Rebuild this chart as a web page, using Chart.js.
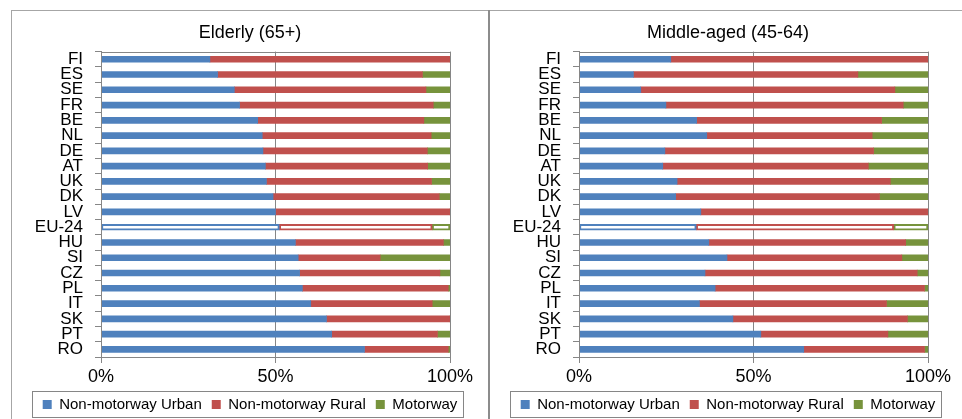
<!DOCTYPE html>
<html>
<head>
<meta charset="utf-8">
<script src="https://cdn.jsdelivr.net/npm/chart.js@4/dist/chart.umd.min.js"></script>
<style>
  html, body { margin: 0; padding: 0; background: #fff; }
  body { width: 962px; height: 419px; overflow: hidden; position: relative; }
  canvas { position: absolute; top: 10px; }
  #elderly { left: 11px; }
  #middle { left: 489px; }
  .line { position: absolute; background: #a6a6a6; }
</style>
</head>
<body>
<canvas id="elderly" width="478" height="412"></canvas>
<canvas id="middle" width="478" height="412"></canvas>
<div class="line" style="left:11px;top:10px;width:951px;height:1px;"></div>
<div class="line" style="left:11px;top:10px;width:1px;height:409px;"></div>
<div class="line" style="left:488px;top:10px;width:2px;height:409px;background:#8c8c8c;"></div>
<script>
const countries = ["FI", "ES", "SE", "FR", "BE", "NL", "DE", "AT", "UK", "DK", "LV", "EU-24", "HU", "SI", "CZ", "PL", "IT", "SK", "PT", "RO"];
const seriesNames = ["Non-motorway Urban", "Non-motorway Rural", "Motorway"];
const xTicks = [0, 50, 100];

// Elderly (65+), share of fatalities in %
const elderlyUrban = [31.2, 33.4, 38.2, 39.7, 44.9, 46.2, 46.4, 47.1, 47.4, 49.3, 50.0, 51.1, 55.7, 56.5, 56.9, 57.7, 60.1, 64.6, 66.1, 75.5];
const elderlyRural = [68.8, 58.7, 54.9, 55.5, 47.6, 48.4, 47.1, 46.5, 47.3, 47.6, 50.0, 43.8, 42.4, 23.5, 40.2, 41.8, 34.8, 35.4, 30.3, 24.0];
const elderlyMotorway = [0, 7.9, 6.9, 4.8, 7.5, 5.4, 6.5, 6.4, 5.3, 3.1, 0, 5.1, 1.9, 20.0, 2.9, 0.5, 5.1, 0, 3.6, 0.5];

// Middle-aged (45-64)
const middleUrban = [26.3, 15.6, 17.7, 24.9, 33.7, 36.6, 24.6, 24.0, 28.1, 27.7, 34.9, 33.6, 37.2, 42.4, 36.1, 39.0, 34.5, 44.1, 52.1, 64.4];
const middleRural = [73.7, 64.3, 72.8, 68.0, 53.0, 47.4, 59.8, 58.9, 61.1, 58.4, 65.1, 56.6, 56.4, 50.1, 60.8, 60.0, 53.6, 50.0, 36.4, 34.6];
const middleMotorway = [0, 20.1, 9.5, 7.1, 13.3, 16.0, 15.6, 17.1, 10.8, 13.9, 0, 9.8, 6.4, 7.5, 3.1, 1.0, 11.9, 5.9, 11.5, 1.0];

const colors = ["#4F81BD", "#C0504D", "#77933C"];
const axisGray = "#868686";
const euIdx = countries.indexOf("EU-24");

Chart.defaults.font.family = "'Liberation Sans', Arial, sans-serif";
Chart.defaults.color = "#000";

// box round the plot area
const plotFrame = {
  id: "plotFrame",
  afterDraw(chart) {
    const a = chart.chartArea;
    const ctx = chart.ctx;
    ctx.save();
    ctx.strokeStyle = axisGray;
    ctx.lineWidth = 1;
    ctx.strokeRect(Math.round(a.left) + 0.5, Math.round(a.top) + 0.5, Math.round(a.right - a.left), Math.round(a.bottom - a.top));
    ctx.restore();
  },
};

// border round the legend like in excel
const legendBox = {
  id: "legendBox",
  afterDraw(chart) {
    const hb = chart.legend.legendHitBoxes;
    if (!hb || !hb.length) return;
    const first = hb[0];
    const last = hb[hb.length - 1];
    const cy = first.top + first.height / 2;
    const ctx = chart.ctx;
    ctx.save();
    ctx.strokeStyle = axisGray;
    ctx.lineWidth = 1;
    ctx.strokeRect(Math.round(first.left - 11) + 0.5, Math.round(cy - 14) + 0.5, Math.round(last.left + last.width - first.left + 16), 26);
    ctx.restore();
  },
};

function makeChart(id, title, urban, rural, motorway) {
  const series = [urban, rural, motorway];
  new Chart(document.getElementById(id), {
    type: "bar",
    data: {
      labels: countries,
      datasets: series.map(function (values, i) {
        return {
          label: seriesNames[i],
          data: values,
          yAxisID: "y",
          backgroundColor: (c) => (c.dataIndex === euIdx ? "#fff" : colors[i]),
          borderColor: colors[i],
          borderWidth: (c) => (c.dataIndex === euIdx ? 2 : 0),
          borderSkipped: false,
          barThickness: 6,
        };
      }),
    },
    options: {
      indexAxis: "y",
      responsive: false,
      animation: false,
      layout: { padding: 0 },
      scales: {
        x: {
          stacked: true,
          min: 0,
          max: 100,
          afterBuildTicks: (s) => { s.ticks = xTicks.map((v) => ({ value: v })); },
          afterFit: (s) => { s.height = 30; },
          ticks: {
            callback: (v) => v + "%",
            font: { size: 18 },
            padding: 3,
            maxRotation: 0,
          },
          grid: { color: axisGray, tickLength: 6 },
          border: { color: axisGray },
        },
        y: {
          stacked: true,
          afterFit: (s) => { s.width = 90; },
          ticks: { font: { size: 17 }, autoSkip: false, padding: 12 },
          grid: { drawOnChartArea: false, color: axisGray, tickLength: 6 },
          border: { color: axisGray },
        },
        yRight: {
          type: "linear",
          position: "right",
          afterFit: (s) => { s.width = 39; },
          ticks: { display: false },
          grid: { display: false },
          border: { display: false },
        },
      },
      plugins: {
        title: {
          display: true,
          text: title,
          font: { size: 18, weight: "normal" },
          color: "#000",
          padding: { top: 12, bottom: 8 },
        },
        legend: {
          position: "bottom",
          labels: {
            boxWidth: 9,
            boxHeight: 9,
            padding: 10,
            font: { size: 15 },
            color: "#000",
          },
        },
        tooltip: { enabled: false },
      },
    },
    plugins: [plotFrame, legendBox],
  });
}

makeChart("elderly", "Elderly (65+)", elderlyUrban, elderlyRural, elderlyMotorway);
makeChart("middle", "Middle-aged (45-64)", middleUrban, middleRural, middleMotorway);
</script>
</body>
</html>
